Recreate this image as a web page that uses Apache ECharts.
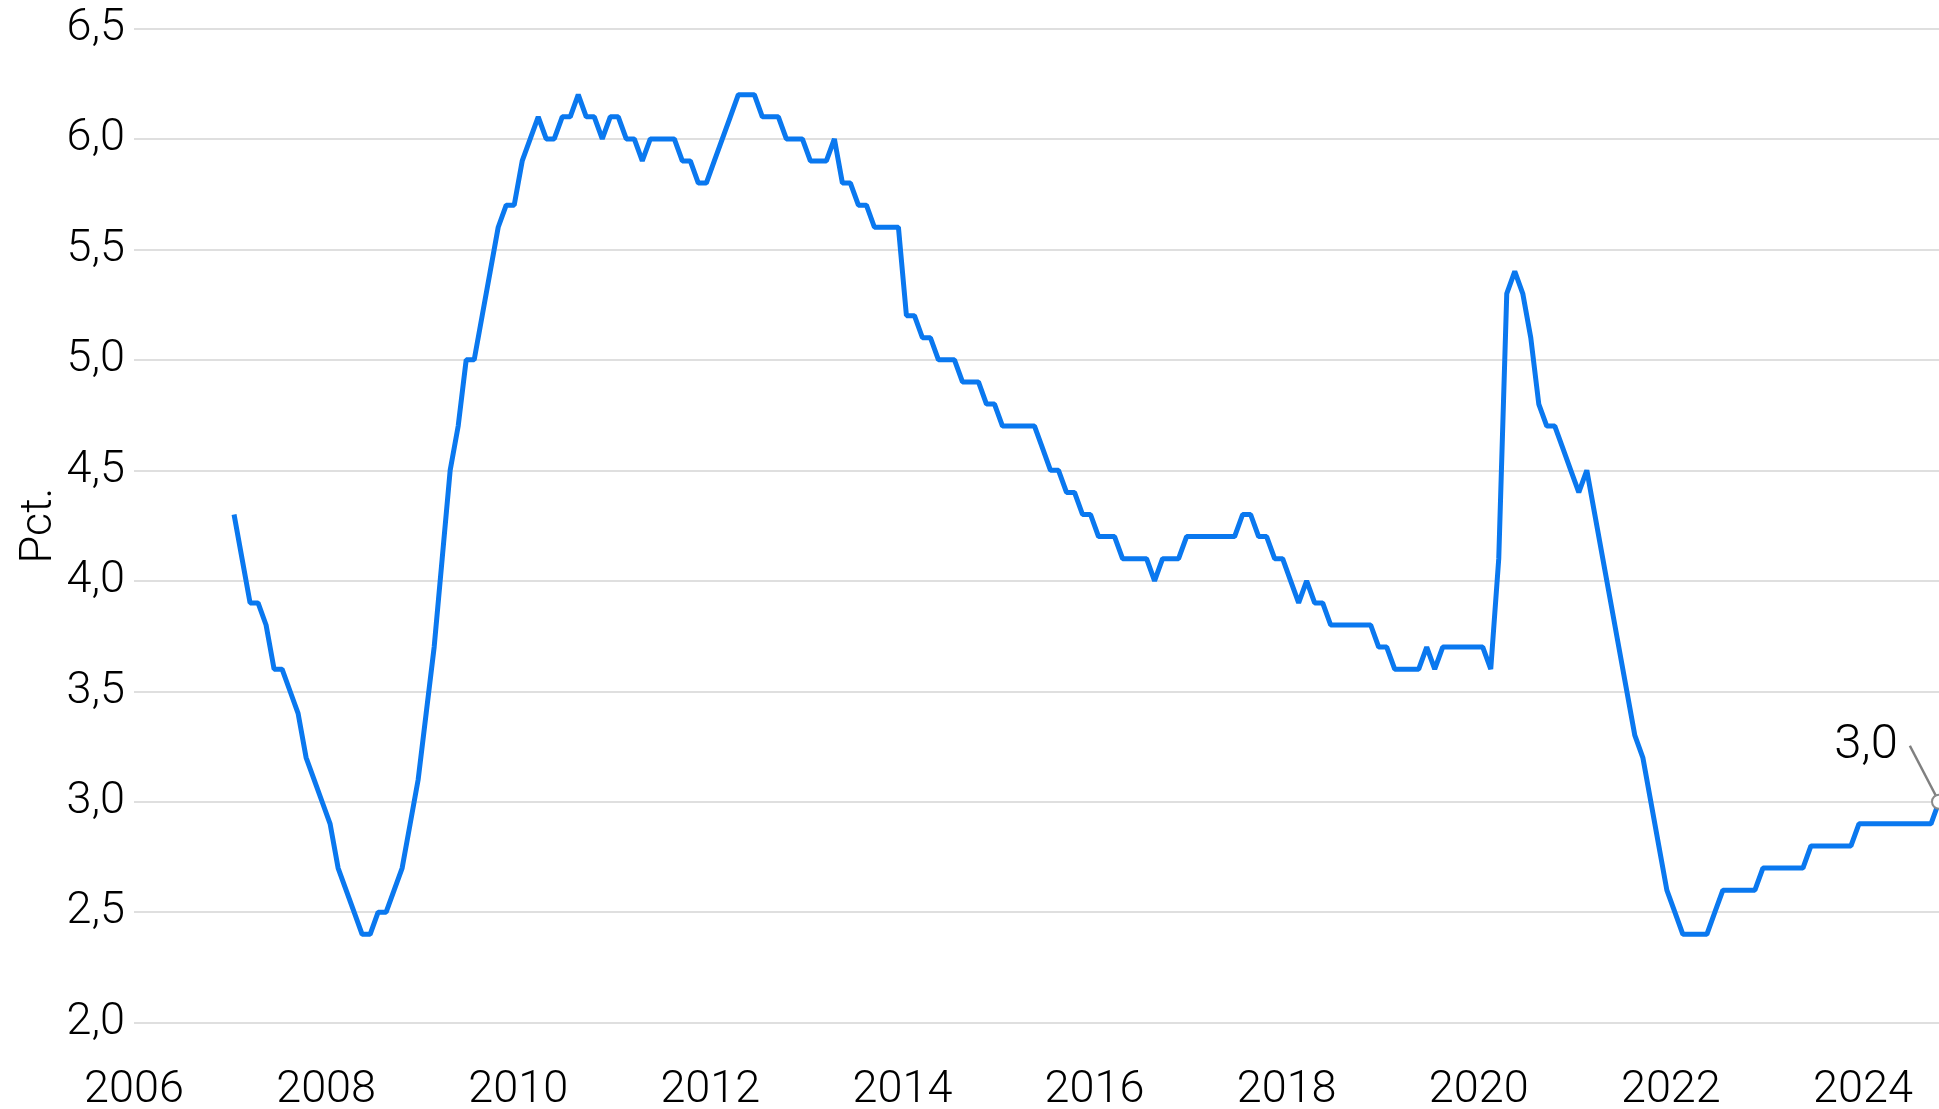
<!DOCTYPE html>
<html>
<head>
<meta charset="utf-8">
<title>Pct.</title>
<script src="https://cdn.jsdelivr.net/npm/echarts@6/dist/echarts.min.js"></script>
<style>
  html, body { margin: 0; padding: 0; background: #fff; }
  #main { width: 1939px; height: 1109px; }
</style>
</head>
<body>
<div id="main"></div>
<script>
// monthly values, Jan 2007 - Oct 2024 (pct.)
var startYear = 2007;
var y2007 = [4.3, 4.1, 3.9, 3.9, 3.8, 3.6, 3.6, 3.5, 3.4, 3.2, 3.1, 3.0];
var y2008 = [2.9, 2.7, 2.6, 2.5, 2.4, 2.4, 2.5, 2.5, 2.6, 2.7, 2.9, 3.1];
var y2009 = [3.4, 3.7, 4.1, 4.5, 4.7, 5.0, 5.0, 5.2, 5.4, 5.6, 5.7, 5.7];
var y2010 = [5.9, 6.0, 6.1, 6.0, 6.0, 6.1, 6.1, 6.2, 6.1, 6.1, 6.0, 6.1];
var y2011 = [6.1, 6.0, 6.0, 5.9, 6.0, 6.0, 6.0, 6.0, 5.9, 5.9, 5.8, 5.8];
var y2012 = [5.9, 6.0, 6.1, 6.2, 6.2, 6.2, 6.1, 6.1, 6.1, 6.0, 6.0, 6.0];
var y2013 = [5.9, 5.9, 5.9, 6.0, 5.8, 5.8, 5.7, 5.7, 5.6, 5.6, 5.6, 5.6];
var y2014 = [5.2, 5.2, 5.1, 5.1, 5.0, 5.0, 5.0, 4.9, 4.9, 4.9, 4.8, 4.8];
var y2015 = [4.7, 4.7, 4.7, 4.7, 4.7, 4.6, 4.5, 4.5, 4.4, 4.4, 4.3, 4.3];
var y2016 = [4.2, 4.2, 4.2, 4.1, 4.1, 4.1, 4.1, 4.0, 4.1, 4.1, 4.1, 4.2];
var y2017 = [4.2, 4.2, 4.2, 4.2, 4.2, 4.2, 4.3, 4.3, 4.2, 4.2, 4.1, 4.1];
var y2018 = [4.0, 3.9, 4.0, 3.9, 3.9, 3.8, 3.8, 3.8, 3.8, 3.8, 3.8, 3.7];
var y2019 = [3.7, 3.6, 3.6, 3.6, 3.6, 3.7, 3.6, 3.7, 3.7, 3.7, 3.7, 3.7];
var y2020 = [3.7, 3.6, 4.1, 5.3, 5.4, 5.3, 5.1, 4.8, 4.7, 4.7, 4.6, 4.5];
var y2021 = [4.4, 4.5, 4.3, 4.1, 3.9, 3.7, 3.5, 3.3, 3.2, 3.0, 2.8, 2.6];
var y2022 = [2.5, 2.4, 2.4, 2.4, 2.4, 2.5, 2.6, 2.6, 2.6, 2.6, 2.6, 2.7];
var y2023 = [2.7, 2.7, 2.7, 2.7, 2.7, 2.8, 2.8, 2.8, 2.8, 2.8, 2.8, 2.9];
var y2024 = [2.9, 2.9, 2.9, 2.9, 2.9, 2.9, 2.9, 2.9, 2.9, 3.0];

var yTicks = [2.0, 2.5, 3.0, 3.5, 4.0, 4.5, 5.0, 5.5, 6.0, 6.5];
var xFirstTick = 2006;
var yName = 'Pct.';

var values = [].concat(y2007, y2008, y2009, y2010, y2011, y2012, y2013, y2014,
  y2015, y2016, y2017, y2018, y2019, y2020, y2021, y2022, y2023, y2024);

// place each month in the middle of the month, as decimal years
var points = values.map(function (v, i) {
  return [startYear + (i + 0.5) / 12, v];
});
var last = points[points.length - 1];

function comma(v) {
  return v.toFixed(1).replace('.', ',');
}

var font = 'Roboto, "Noto Sans", sans-serif';
var chart = echarts.init(document.getElementById('main'));

var option = {
  animation: false,
  backgroundColor: '#ffffff',
  grid: { left: 134, right: 0, top: 28.4, bottom: 86.3, outerBoundsMode: 'none', containLabel: false },
  xAxis: {
    type: 'value',
    min: xFirstTick,
    max: last[0],
    interval: 2,
    axisLine: { show: false },
    axisTick: { show: false },
    splitLine: { show: false },
    axisLabel: {
      showMaxLabel: false,
      margin: 46,
      fontFamily: font,
      fontWeight: 300,
      fontSize: 45,
      color: '#000000',
      formatter: function (v) {
        return Number.isInteger(v) ? String(v) : '';
      }
    }
  },
  yAxis: {
    type: 'value',
    min: yTicks[0],
    max: yTicks[yTicks.length - 1],
    interval: 0.5,
    name: yName,
    nameLocation: 'middle',
    nameGap: 72,
    nameMoveOverlap: false,
    nameTextStyle: { fontFamily: font, fontWeight: 300, fontSize: 45, color: '#000000' },
    axisLine: { show: false },
    axisTick: { show: false },
    splitLine: { lineStyle: { color: '#d4d4d4', width: 1.5 } },
    axisLabel: {
      margin: 9,
      fontFamily: font,
      fontWeight: 300,
      fontSize: 45,
      color: '#000000',
      padding: [4, 0, 0, 0],
      formatter: function (v) { return comma(v); }
    }
  },
  series: [
    {
      type: 'line',
      data: points,
      symbol: 'none',
      silent: true,
      lineStyle: { color: '#0a78ef', width: 5 },
      z: 2
    },
    {
      type: 'scatter',
      data: [last],
      symbol: 'circle',
      symbolSize: 14,
      silent: true,
      itemStyle: { color: '#ffffff', borderColor: '#8a8a8a', borderWidth: 2, opacity: 1 },
      label: {
        show: true,
        position: 'inside',
        fontFamily: font,
        fontWeight: 300,
        fontSize: 49,
        color: '#000000',
        opacity: 1,
        formatter: function (p) { return comma(p.value[1]) + '\u00a0'; }
      },
      labelLayout: { dx: -67, dy: -56 },
      labelLine: { show: true, lineStyle: { color: '#808080', width: 2.5, opacity: 1 } },
      z: 3
    }
  ]
};

chart.setOption(option);
window.addEventListener('resize', chart.resize);
</script>
</body>
</html>
